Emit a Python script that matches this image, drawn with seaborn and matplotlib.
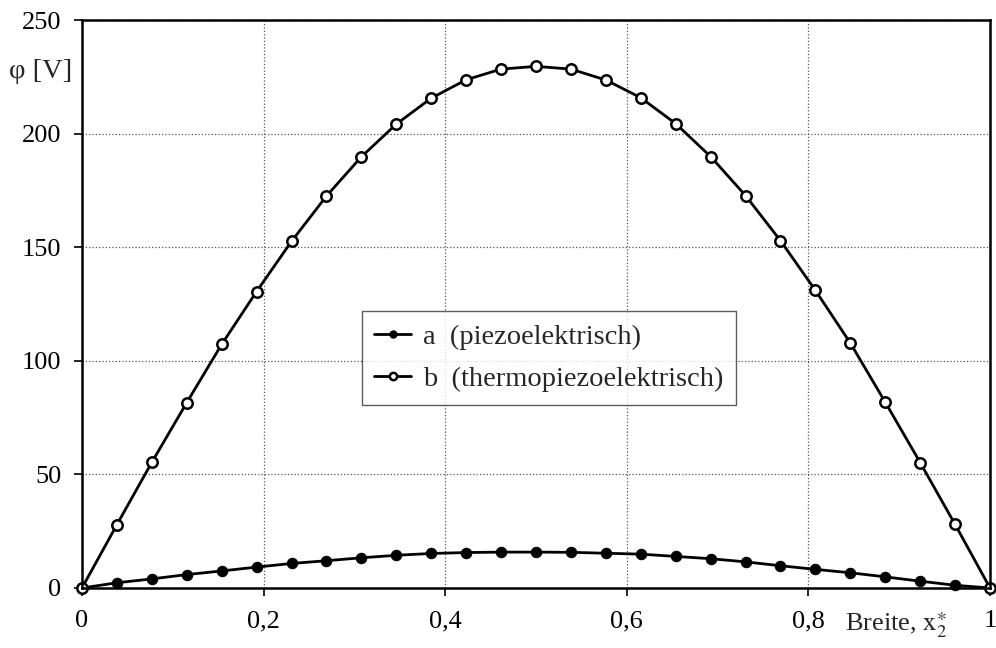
import numpy as np
import matplotlib
matplotlib.use("Agg")
import matplotlib.pyplot as plt
import pandas as pd
import seaborn as sns

# Breite x2* (27 Stuetzstellen)
x_breite = [0, 0.0385, 0.0769, 0.1154, 0.1538, 0.1923, 0.2308, 0.2692, 0.3077,
            0.3462, 0.3846, 0.4231, 0.4615, 0.5, 0.5385, 0.5769, 0.6154, 0.6538,
            0.6923, 0.7308, 0.7692, 0.8077, 0.8462, 0.8846, 0.9231, 0.9615, 1.0]
# a (piezoelektrisch)
phi_a = [0, 2.3, 4.0, 5.9, 7.5, 9.2, 10.8, 12.0, 13.3, 14.4, 15.2, 15.6, 15.8,
         15.8, 15.7, 15.3, 14.9, 13.9, 12.9, 11.5, 9.8, 8.2, 6.7, 4.9, 3.0, 1.2, 0]
# b (thermopiezoelektrisch)
phi_b = [0, 27.9, 55.3, 81.6, 107.2, 130.5, 152.6, 172.5, 189.8, 204.2, 215.6,
         223.7, 228.4, 229.6, 228.4, 223.6, 215.8, 204.4, 189.9, 172.7, 152.9,
         131.0, 107.8, 81.8, 55.2, 28.0, 0]

x_ticks = [0, 0.2, 0.4, 0.6, 0.8, 1.0]
x_ticklabels = ["0", "0,2", "0,4", "0,6", "0,8", "1"]
y_ticks = [0, 50, 100, 150, 200, 250]

df = pd.DataFrame({"x": x_breite, "a": phi_a, "b": phi_b})

sns.set_theme(style="white")
plt.rcParams["font.family"] = ["Liberation Serif", "DejaVu Serif"]
plt.rcParams["mathtext.fontset"] = "stix"

fig = plt.figure(figsize=(9.96, 6.48), dpi=100)
ax = fig.add_axes([0.0823, 0.0926, 0.9117, 0.8765])

sns.lineplot(data=df, x="x", y="a", ax=ax, color="black", linewidth=2.0,
             marker="o", markersize=7.5, markerfacecolor="black",
             markeredgecolor="black", clip_on=False,
             label="a  (piezoelektrisch)")
sns.lineplot(data=df, x="x", y="b", ax=ax, color="black", linewidth=2.0,
             marker="o", markersize=7.5, markerfacecolor="white",
             markeredgecolor="black", markeredgewidth=1.8, clip_on=False,
             label="b  (thermopiezoelektrisch)")

ax.set_xlim(0, 1)
ax.set_ylim(0, 250)
ax.set_xticks(x_ticks)
ax.set_xticklabels(x_ticklabels)
ax.set_yticks(y_ticks)
ax.set_xlabel("")
ax.set_ylabel("")
ax.tick_params(axis="both", labelsize=19, colors="black", direction="out",
               length=6, width=1.2, bottom=True, left=True)
ax.tick_params(axis="x", pad=10)
ax.tick_params(axis="y", pad=9)
ax.grid(True, linestyle=":", color="#555555", linewidth=0.9)
for sp in ax.spines.values():
    sp.set_visible(True)
    sp.set_color("black")
    sp.set_linewidth(1.8)

leg = ax.legend(loc="center", bbox_to_anchor=(0.514, 0.405), fontsize=20.5,
                frameon=True, fancybox=False, edgecolor="#333333",
                handlelength=1.3, handletextpad=0.4, markerscale=0.7,
                borderpad=0.45, labelspacing=0.55, borderaxespad=0)
leg.get_frame().set_linewidth(1.0)

fig.text(0.041, 0.889, "φ [V]", fontsize=20.5, ha="center", va="center")
fig.text(0.9, 0.036, r"Breite, $\mathrm{x}_2^{\ast}$", fontsize=19,
         ha="center", va="center")

fig.savefig("out.png", dpi=100)
